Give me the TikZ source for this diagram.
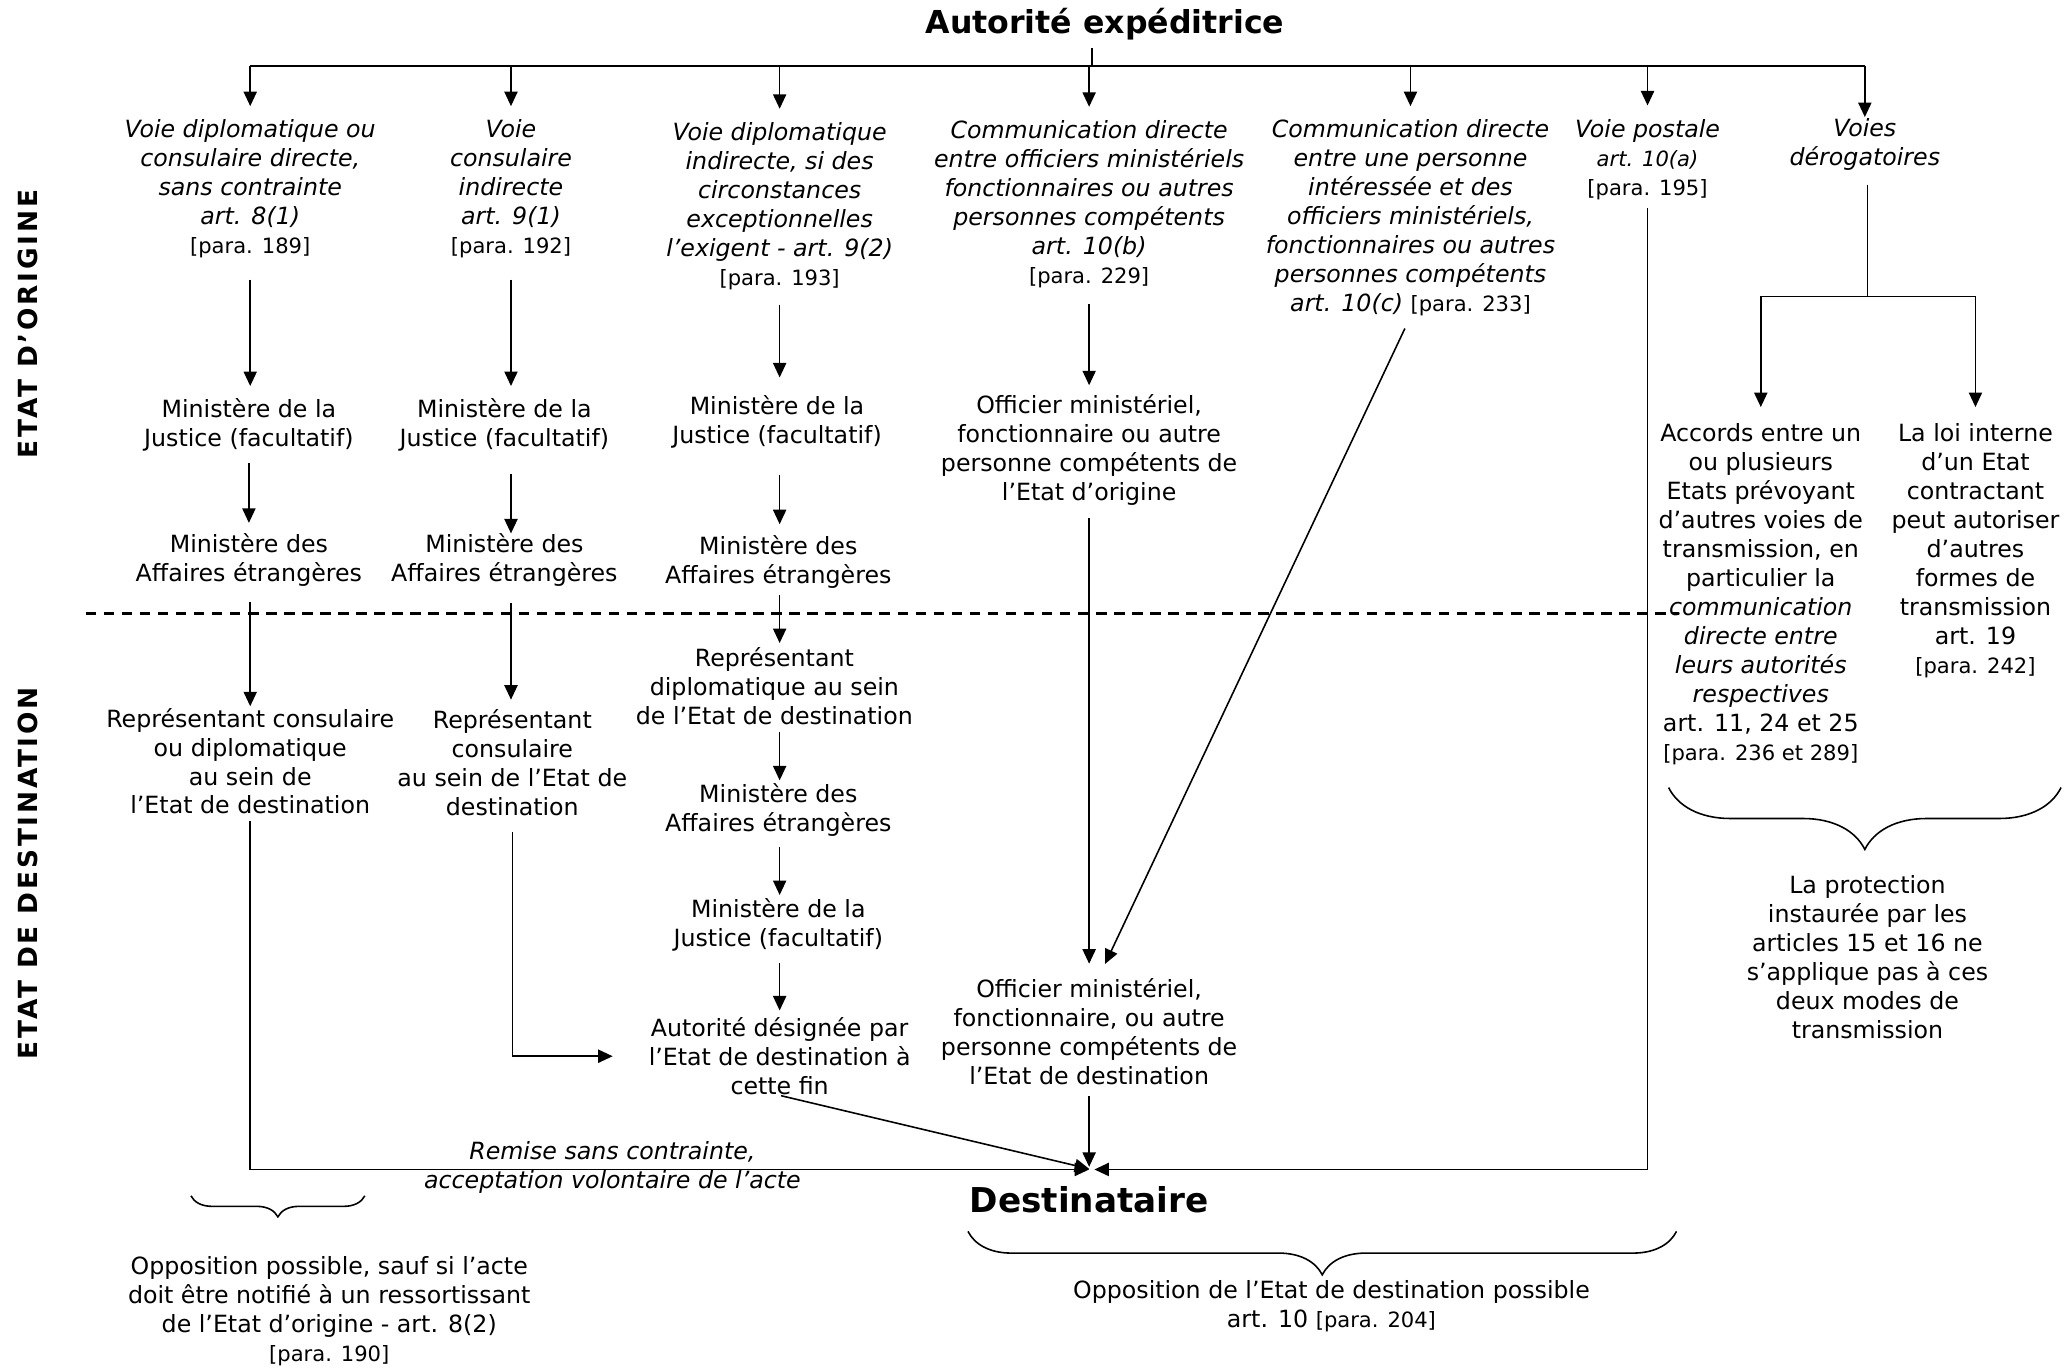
\documentclass[tikz,border=0pt]{standalone}
\usepackage{fontspec}
\setmainfont{DejaVu Sans}
\newfontfamily\vfont{DejaVu Sans}[LetterSpace=10.5]
\usetikzlibrary{arrows.meta,decorations.pathreplacing,calc}
\newcommand{\pp}[1]{{\fontsize{8}{11}\selectfont #1}}
\begin{document}
\begin{tikzpicture}[x=0.5pt,y=-0.5pt,
  every node/.style={inner sep=0pt, align=center, font=\fontsize{9}{11}\selectfont},
  con/.style={line width=0.6pt},
  arr/.style={con,-{Triangle[length=5.5pt,width=5pt]}},
  brc/.style={decorate, decoration={brace,mirror,amplitude=#1}, line width=0.6pt},
  sidelab/.style={rotate=90, font={\vfont\bfseries\fontsize{10}{12}\selectfont}},
  bigt/.style={font={\bfseries\fontsize{12}{14}\selectfont}},
  bigd/.style={font={\bfseries\fontsize{13}{15}\selectfont}}
]
\useasboundingbox (0,0) rectangle (1568,1038);

% titles
\node[bigt] (t) at (839,18) {Autorité expéditrice};
\node[bigd] (dest) at (827,911) {Destinataire};
\node[sidelab] (vo) at (21,246) {ETAT D’ORIGINE};
\node[sidelab] (vd) at (21,663) {ETAT DE DESTINATION};

% headers
\node (h1) at (190,143.5) {\textit{Voie diplomatique ou}\\\textit{consulaire directe,}\\\textit{sans contrainte}\\\textit{art. 8(1)}\\\pp{[para. 189]}};
\node (h2) at (388,143.5) {\textit{Voie}\\\textit{consulaire}\\\textit{indirecte}\\\textit{art. 9(1)}\\\pp{[para. 192]}};
\node (h3) at (592,156.5) {\textit{Voie diplomatique}\\\textit{indirecte, si des}\\\textit{circonstances}\\\textit{exceptionnelles}\\\textit{l’exigent - art. 9(2)}\\\pp{[para. 193]}};
\node (h4) at (827,155) {\textit{Communication directe}\\\textit{entre officiers ministériels}\\\textit{fonctionnaires ou autres}\\\textit{personnes compétents}\\\textit{art. 10(b)}\\\pp{[para. 229]}};
\node (h5) at (1071,165.5) {\textit{Communication directe}\\\textit{entre une personne}\\\textit{intéressée et des}\\\textit{officiers ministériels,}\\\textit{fonctionnaires ou autres}\\\textit{personnes compétents}\\\textit{art. 10(c)} \pp{[para. 233]}};
\node (h6) at (1251,121) {\textit{Voie postale}\\{\fontsize{8}{11}\selectfont\itshape art. 10(a)}\\\pp{[para. 195]}};
\node (h7) at (1416,110) {\textit{Voies}\\\textit{dérogatoires}};

% column 1
\node (m1a) at (189,322.5) {Ministère de la\\Justice (facultatif)};
\node (m1b) at (189,425.5) {Ministère des\\Affaires étrangères};
\node (r1) at (190,578) {Représentant consulaire\\ou diplomatique\\au sein de\\l’Etat de destination};
% column 2
\node (m2a) at (383,322.5) {Ministère de la\\Justice (facultatif)};
\node (m2b) at (383,425.5) {Ministère des\\Affaires étrangères};
\node (r2) at (389,579) {Représentant\\consulaire\\au sein de l’Etat de\\destination};
% column 3
\node (m3a) at (590,320) {Ministère de la\\Justice (facultatif)};
\node (m3b) at (591,426.5) {Ministère des\\Affaires étrangères};
\node (r3) at (588,521) {Représentant\\diplomatique au sein\\de l’Etat de destination};
\node (m3c) at (591,615) {Ministère des\\Affaires étrangères};
\node (m3d) at (591,702) {Ministère de la\\Justice (facultatif)};
\node (a3) at (592,802) {Autorité désignée par\\l’Etat de destination à\\cette fin};
% column 4
\node (o4) at (827,342) {Officier ministériel,\\fonctionnaire ou autre\\personne compétents de\\l’Etat d’origine};
\node (o4b) at (827,783.5) {Officier ministériel,\\fonctionnaire, ou autre\\personne compétents de\\l’Etat de destination};
% column 7
\node (acc) at (1337,451) {Accords entre un\\ou plusieurs\\Etats prévoyant\\d’autres voies de\\transmission, en\\particulier la\\\textit{communication}\\\textit{directe entre}\\\textit{leurs autorités}\\\textit{respectives}\\art. 11, 24 et 25\\\pp{[para. 236 et 289]}};
\node (loi) at (1500,418) {La loi interne\\d’un Etat\\contractant\\peut autoriser\\d’autres\\formes de\\transmission\\art. 19\\\pp{[para. 242]}};
\node (prot) at (1418,727) {La protection\\instaurée par les\\articles 15 et 16 ne\\s’applique pas à ces\\deux modes de\\transmission};

% bottom texts
\node (remise) at (465,886.5) {\textit{Remise sans contrainte,}\\\textit{acceptation volontaire de l’acte}};
\node (opp1) at (250,995.5) {Opposition possible, sauf si l’acte\\doit être notifié à un ressortissant\\de l’Etat d’origine - art. 8(2)\\\pp{[para. 190]}};
\node (opp2) at (1011,992) {Opposition de l’Etat de destination possible\\art. 10 \pp{[para. 204]}};

% coordinates
\coordinate (tb) at (829,50);
\coordinate (dp) at (829,888);
\coordinate (j7) at (1418,225);

% top distribution
\draw[con, shorten <=3pt] (t.south -| tb) -- (tb);
\draw[line width=0.8pt] (h1.north |- tb) -- (h7.north |- tb);
\foreach \h in {h1,h2,h3,h4,h5,h6} {
  \draw[arr, shorten >=5pt] (\h.north |- tb) -- (\h.north);
}
\draw[arr, shorten >=0.5pt] (h7.north |- tb) -- (h7.north);

% dashed border
\draw[line width=1pt, dash pattern=on 4pt off 2.85pt] (65,466) -- (1275,466);

% column 1
\draw[arr, shorten <=8pt, shorten >=4.5pt] (h1.south) -- (h1.south |- m1a.north);
\draw[arr, shorten <=4.5pt, shorten >=4pt] (m1a.south) -- (m1b.north);
\draw[arr, shorten <=5.5pt, shorten >=0.5pt] (m1b.south -| r1.north) -- (r1.north);
\draw[arr, shorten <=2.5pt, shorten >=1pt] (r1.south) |- (dp);

% column 2
\draw[arr, shorten <=8pt, shorten >=4.5pt] (h2.south) -- (h2.south |- m2a.north);
\draw[arr, shorten <=8.5pt] (m2a.south -| h2.south) -- (m2b.north -| h2.south);
\draw[arr, shorten <=6pt, shorten >=3.5pt] (m2b.south -| h2.south) -- (r2.north -| h2.south);
\draw[arr, shorten <=6pt, shorten >=13.5pt] (r2.south) |- (a3.west);

% column 3
\draw[arr, shorten <=5.5pt, shorten >=6.5pt] (h3.south) -- (h3.south |- m3a.north);
\draw[arr, shorten <=10pt, shorten >=4pt] (m3a.south -| h3.south) -- (m3b.north -| h3.south);
\draw[arr, shorten <=2.5pt, shorten >=1.5pt] (m3b.south -| h3.south) -- (r3.north -| h3.south);
\draw[arr, shorten <=2.5pt, shorten >=1pt] (r3.south -| h3.south) -- (m3c.north -| h3.south);
\draw[arr, shorten <=4pt, shorten >=1pt] (m3c.south -| h3.south) -- (m3d.north -| h3.south);
\draw[arr, shorten <=4.5pt, shorten >=2.5pt] (m3d.south -| h3.south) -- (a3.north -| h3.south);
\draw[arr, shorten <=0.5pt, shorten >=1pt] (a3.south) -- (dp);

% column 4
\draw[arr, shorten <=6pt, shorten >=3.5pt] (h4.south) -- (o4.north);
\draw[arr, shorten <=4.5pt, shorten >=5.5pt] (o4.south) -- (o4b.north);
\draw[arr, shorten <=4pt, shorten >=1pt] (o4b.south) -- (o4b.south |- dp);

% column 5
\draw[arr, shorten <=5pt, shorten >=6pt] (h5.south) -- ([xshift=3.5pt]o4b.north);

% column 6
\draw[arr, shorten <=3pt, shorten >=1pt] (h6.south) |- (dp);

% column 7
\draw[con, shorten <=5pt] (h7.south -| j7) -- (j7);
\draw[con] (acc.north |- j7) -- (loi.north |- j7);
\draw[arr, shorten >=6pt] (acc.north |- j7) -- (acc.north);
\draw[arr, shorten >=6pt] (loi.north |- j7) -- (loi.north);

% braces
\draw[brc=23.5pt] (1267,598) -- (1565,598);
\draw[brc=8pt] (145,908) -- (277,908);
\draw[brc=16.5pt] (735,935) -- (1273,935);
\end{tikzpicture}
\end{document}
